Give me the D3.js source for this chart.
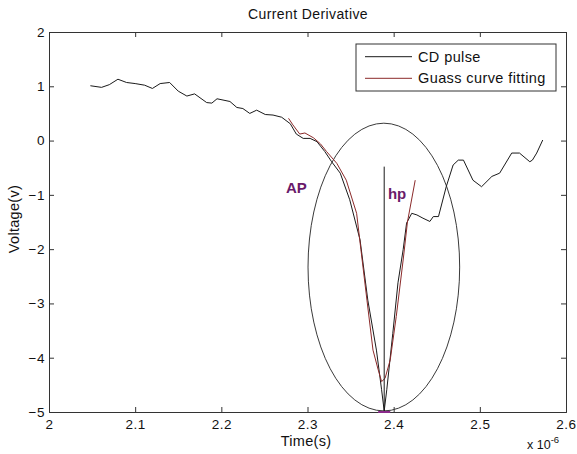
<!DOCTYPE html>
<html>
<head>
<meta charset="utf-8">
<script src="https://cdn.jsdelivr.net/npm/d3@7"></script>
<style>
  body { margin: 0; background: #fff; }
  text { font-family: Arial, "Liberation Sans", sans-serif; }
</style>
</head>
<body>
<script>
// time values are in units of 1e-6 s (axis shows "x 10^-6")
const cdTime = [2.048, 2.061, 2.070, 2.080, 2.090, 2.100, 2.111, 2.120, 2.129, 2.140, 2.150, 2.160, 2.169, 2.183,
  2.189, 2.195, 2.210, 2.218, 2.225, 2.233, 2.241, 2.251, 2.260, 2.270, 2.280, 2.287, 2.295, 2.303, 2.311,
  2.320, 2.328, 2.338, 2.349, 2.361, 2.370, 2.380, 2.386, 2.389, 2.392, 2.399, 2.405, 2.411, 2.415, 2.421,
  2.427, 2.434, 2.442, 2.446, 2.452, 2.461, 2.469, 2.475, 2.481, 2.492, 2.502, 2.514, 2.523, 2.537, 2.546,
  2.558, 2.561, 2.566, 2.573];
const cdVolt = [1.01, 0.98, 1.03, 1.13, 1.07, 1.05, 1.02, 0.96, 1.05, 1.07, 0.91, 0.82, 0.86, 0.70,
  0.69, 0.77, 0.72, 0.61, 0.59, 0.50, 0.56, 0.48, 0.47, 0.43, 0.31, 0.12, 0.04, 0.04, -0.02,
  -0.20, -0.39, -0.60, -1.09, -1.83, -2.94, -3.86, -4.59, -4.98, -4.59, -3.55, -2.62, -2.01, -1.52, -1.34,
  -1.37, -1.43, -1.49, -1.40, -1.40, -0.85, -0.45, -0.36, -0.36, -0.73, -0.85, -0.66, -0.60, -0.23, -0.23,
  -0.39, -0.36, -0.23, 0.01];

const fitTime = [2.278, 2.283, 2.291, 2.297, 2.307, 2.315, 2.322, 2.334, 2.345, 2.357, 2.362, 2.369, 2.376,
  2.382, 2.386, 2.390, 2.396, 2.403, 2.411, 2.416, 2.425];
const fitVolt = [0.41, 0.29, 0.12, 0.14, 0.05, -0.06, -0.20, -0.42, -0.73, -1.34, -2.01, -2.94, -3.86,
  -4.22, -4.44, -4.38, -4.04, -3.24, -2.20, -1.50, -0.73];

// hp marker line and the ellipse around the pulse
const hpTime = [2.389, 2.389];
const hpVolt = [-0.48, -5];
const ellipseCenter = [2.3886, -2.33];
const ellipseRadius = [0.088, 2.65];

const xTicks = [2, 2.1, 2.2, 2.3, 2.4, 2.5, 2.6];
const yTicks = [-5, -4, -3, -2, -1, 0, 1, 2];
const legendNames = ["CD pulse", "Guass curve fitting"];
const legendColors = ["#1a1a1a", "#8b2a2a"];

const W = 577, H = 454;
const margin = {top: 32, right: 11, bottom: 42, left: 49};
const width = W - margin.left - margin.right,
      height = H - margin.top - margin.bottom;

const svg = d3.select("body").append("svg")
  .attr("width", W).attr("height", H);

const g = svg.append("g")
  .attr("transform", "translate(" + margin.left + "," + margin.top + ")");

const x = d3.scaleLinear().domain([2, 2.6]).range([0, width]);
const y = d3.scaleLinear().domain([-5, 2]).range([height, 0]);

// axes, ticks pointing inward on all four sides
const axisColor = "#333";
g.append("g")
  .attr("transform", "translate(0," + height + ")")
  .call(d3.axisBottom(x).tickValues(xTicks).tickSize(-5).tickPadding(7.5)
    .tickFormat(d3.format("~g")));
g.append("g")
  .call(d3.axisTop(x).tickValues(xTicks).tickSize(-5).tickFormat(""));
g.append("g")
  .call(d3.axisLeft(y).tickValues(yTicks).tickSize(-5).tickPadding(4)
    .tickFormat(d => d3.format("d")(d)));
g.append("g")
  .attr("transform", "translate(" + width + ",0)")
  .call(d3.axisRight(y).tickValues(yTicks).tickSize(-5).tickFormat(""));

g.selectAll(".domain").attr("stroke", axisColor);
g.selectAll(".tick line").attr("stroke", axisColor);
g.selectAll(".tick text").attr("font-size", 13.5).attr("fill", "#111")
  .attr("letter-spacing", 0.5)
  .attr("font-family", "Arial, 'Liberation Sans', sans-serif");

// ellipse
g.append("ellipse")
  .attr("cx", x(ellipseCenter[0]))
  .attr("cy", y(ellipseCenter[1]))
  .attr("rx", x(ellipseCenter[0] + ellipseRadius[0]) - x(ellipseCenter[0]))
  .attr("ry", y(ellipseCenter[1]) - y(ellipseCenter[1] + ellipseRadius[1]))
  .attr("fill", "none")
  .attr("stroke", "#3a3a3a")
  .attr("stroke-width", 1);

const line = d3.line().x(d => x(d[0])).y(d => y(d[1]));

// CD pulse
g.append("path")
  .datum(d3.zip(cdTime, cdVolt))
  .attr("d", line)
  .attr("fill", "none")
  .attr("stroke", legendColors[0])
  .attr("stroke-width", 1);

// gauss fit
g.append("path")
  .datum(d3.zip(fitTime, fitVolt))
  .attr("d", line)
  .attr("fill", "none")
  .attr("stroke", legendColors[1])
  .attr("stroke-width", 1);

// hp vertical line
g.append("path")
  .datum(d3.zip(hpTime, hpVolt))
  .attr("d", line)
  .attr("fill", "none")
  .attr("stroke", "#1a1a1a")
  .attr("stroke-width", 1);

// small purple mark on the bottom axis under the peak
g.append("path")
  .datum([[2.382, -5], [2.396, -5]])
  .attr("d", line)
  .attr("stroke", "#8a2a8a")
  .attr("stroke-width", 2);

// annotations
g.append("text")
  .attr("x", x(2.275)).attr("y", y(-0.97))
  .attr("font-size", 15).attr("font-weight", "bold")
  .attr("fill", "#6a1a6a").text("AP");
g.append("text")
  .attr("x", x(2.3933)).attr("y", y(-1.075))
  .attr("font-size", 15).attr("font-weight", "bold")
  .attr("fill", "#6a1a6a").text("hp");

// legend
const leg = g.append("g").attr("transform", "translate(" + (356 - margin.left) + "," + (44 - margin.top) + ")");
leg.append("rect")
  .attr("width", 200).attr("height", 47)
  .attr("fill", "#fff").attr("stroke", "#333");
legendNames.forEach((name, i) => {
  const ly = 12.7 + i * 21.6;
  leg.append("line")
    .attr("x1", 9).attr("x2", 56).attr("y1", ly).attr("y2", ly)
    .attr("stroke", legendColors[i]);
  leg.append("text")
    .attr("x", 62).attr("y", ly + 5)
    .attr("font-size", 14.5).attr("letter-spacing", 0.4)
    .attr("fill", "#111").text(name);
});

// titles
svg.append("text")
  .attr("x", 308).attr("y", 19)
  .attr("text-anchor", "middle").attr("font-size", 14).attr("letter-spacing", 0.4)
  .attr("fill", "#111")
  .text("Current Derivative");
svg.append("text")
  .attr("x", 306).attr("y", 446)
  .attr("text-anchor", "middle").attr("font-size", 14.5).attr("letter-spacing", 0.3)
  .attr("fill", "#111")
  .text("Time(s)");
svg.append("text")
  .attr("transform", "translate(19,219) rotate(-90)")
  .attr("text-anchor", "middle").attr("font-size", 14.5).attr("letter-spacing", 0.3)
  .attr("fill", "#111")
  .text("Voltage(v)");

// exponent label
const ex = svg.append("text")
  .attr("x", 527).attr("y", 449)
  .attr("font-size", 12.5).attr("fill", "#111");
ex.append("tspan").text("x 10");
ex.append("tspan").attr("dy", -6).attr("font-size", 9.5).text("-6");
</script>
</body>
</html>
